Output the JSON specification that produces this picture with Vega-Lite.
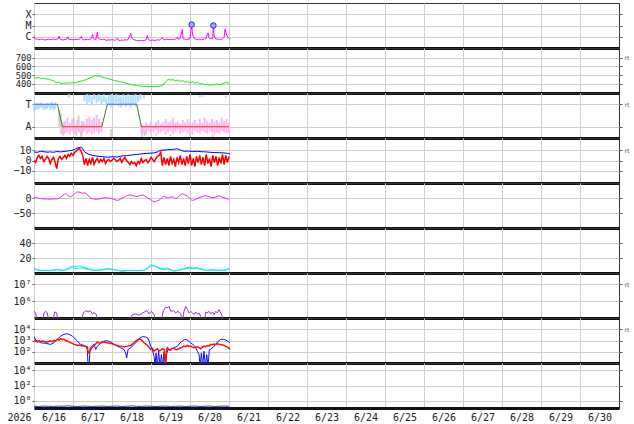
{
"$schema": "https://vega.github.io/schema/vega-lite/v6.json",
"autosize": {"type": "pad"},
"padding": {"left": 6, "top": 2, "right": 4, "bottom": 2},
"background": "white",
"config": {
  "view": {"stroke": "#333", "strokeWidth": 1},
  "axis": {"labelFont": "DejaVu Sans Mono", "labelFontSize": 10, "labelColor": "#222", "gridColor": "#cfcfcf", "gridWidth": 1, "tickColor": "#555", "tickSize": 2, "labelPadding": 1, "domain": false, "labelOverlap": false}
},
"datasets": {
"xr": [{"h":0,"f":13e-7},{"h":0.5,"f":7e-7},{"h":1,"f":6e-7},{"h":2,"f":6.5e-7},{"h":3,"f":5.5e-7},{"h":4,"f":5.8e-7},{"h":5,"f":6.2e-7},{"h":6,"f":5.5e-7},{"h":7,"f":5.2e-7},{"h":8,"f":5.6e-7},{"h":9,"f":6e-7},{"h":10,"f":5.4e-7},{"h":11,"f":5.8e-7},{"h":12,"f":6.4e-7},{"h":13,"f":5.6e-7},{"h":14,"f":6e-7},{"h":15,"f":7e-7},{"h":15.4,"f":11.5e-7},{"h":15.8,"f":6.5e-7},{"h":17,"f":5.6e-7},{"h":18,"f":5.2e-7},{"h":19,"f":5.8e-7},{"h":20,"f":6e-7},{"h":20.9,"f":10e-7},{"h":21.3,"f":6e-7},{"h":22,"f":5.5e-7},{"h":23,"f":5.8e-7},{"h":24,"f":5.3e-7},{"h":25,"f":5.6e-7},{"h":26,"f":6e-7},{"h":27,"f":5.5e-7},{"h":28,"f":6.2e-7},{"h":29.2,"f":11e-7},{"h":29.6,"f":6.5e-7},{"h":30,"f":5.8e-7},{"h":31,"f":5.2e-7},{"h":32,"f":6e-7},{"h":33,"f":5.4e-7},{"h":34,"f":5.8e-7},{"h":35,"f":6.5e-7},{"h":36.1,"f":16e-7},{"h":36.5,"f":7e-7},{"h":37,"f":6e-7},{"h":38,"f":5.8e-7},{"h":39,"f":26e-7},{"h":39.4,"f":8e-7},{"h":40,"f":6.5e-7},{"h":41,"f":6e-7},{"h":42,"f":5.5e-7},{"h":43,"f":6e-7},{"h":44,"f":5.2e-7},{"h":45,"f":4.8e-7},{"h":46,"f":5.4e-7},{"h":47,"f":5e-7},{"h":48,"f":5.6e-7},{"h":49,"f":5.2e-7},{"h":50,"f":4.8e-7},{"h":51.3,"f":7.5e-7},{"h":52,"f":5e-7},{"h":53,"f":4.6e-7},{"h":54,"f":5.2e-7},{"h":55,"f":4.8e-7},{"h":56,"f":5.4e-7},{"h":57,"f":5e-7},{"h":58,"f":6e-7},{"h":59.5,"f":20e-7},{"h":60,"f":8e-7},{"h":61,"f":6e-7},{"h":62,"f":5.2e-7},{"h":63,"f":4.8e-7},{"h":64,"f":4.5e-7},{"h":65,"f":4.4e-7},{"h":66,"f":4.6e-7},{"h":67,"f":4.3e-7},{"h":68,"f":4.8e-7},{"h":69,"f":5.5e-7},{"h":69.8,"f":13e-7},{"h":70.3,"f":6e-7},{"h":71,"f":5e-7},{"h":72,"f":4.8e-7},{"h":73,"f":5.2e-7},{"h":74,"f":4.6e-7},{"h":75,"f":5e-7},{"h":76,"f":5.4e-7},{"h":77,"f":5e-7},{"h":78,"f":5.8e-7},{"h":79,"f":8.5e-7},{"h":79.5,"f":6e-7},{"h":80,"f":5.2e-7},{"h":81,"f":5.6e-7},{"h":82,"f":6e-7},{"h":83,"f":5.5e-7},{"h":84,"f":6e-7},{"h":85,"f":5.4e-7},{"h":86,"f":5.8e-7},{"h":87,"f":6.2e-7},{"h":88.2,"f":9e-7},{"h":88.7,"f":6e-7},{"h":89,"f":6.2e-7},{"h":90,"f":7e-7},{"h":91.3,"f":45e-7},{"h":91.7,"f":8e-7},{"h":92,"f":6.5e-7},{"h":93,"f":6e-7},{"h":94,"f":5.8e-7},{"h":95,"f":6.2e-7},{"h":96,"f":6.5e-7},{"h":97,"f":120e-7},{"h":97.4,"f":30e-7},{"h":97.8,"f":12e-7},{"h":98.5,"f":8e-7},{"h":99,"f":6.5e-7},{"h":100,"f":6e-7},{"h":101,"f":5.8e-7},{"h":102,"f":6.2e-7},{"h":103,"f":6e-7},{"h":104,"f":5.8e-7},{"h":105,"f":6.5e-7},{"h":106,"f":7e-7},{"h":106.8,"f":20e-7},{"h":107.3,"f":20e-7},{"h":107.6,"f":8e-7},{"h":108,"f":7e-7},{"h":109,"f":6.5e-7},{"h":110,"f":7e-7},{"h":110.4,"f":100e-7},{"h":110.8,"f":14e-7},{"h":111.3,"f":8e-7},{"h":112,"f":6.5e-7},{"h":113,"f":6e-7},{"h":114,"f":6.2e-7},{"h":115,"f":5.8e-7},{"h":116,"f":6.5e-7},{"h":117,"f":9e-7},{"h":117.6,"f":47e-7},{"h":118.2,"f":20e-7},{"h":119,"f":10e-7},{"h":120,"f":7.5e-7},{"h":120.6,"f":6.5e-7}],
"fl": [{"h":97,"f":1.2e-5},{"h":110.4,"f":1.0e-5}],
"sw": [{"h":0,"v":472},{"h":1.5,"v":468},{"h":3,"v":474},{"h":4.5,"v":462},{"h":6,"v":466},{"h":7.5,"v":455},{"h":9,"v":458},{"h":10.5,"v":444},{"h":12,"v":436},{"h":13.5,"v":412},{"h":15,"v":420},{"h":16.5,"v":406},{"h":18,"v":410},{"h":19.5,"v":408},{"h":21,"v":413},{"h":22.5,"v":411},{"h":24,"v":416},{"h":25.5,"v":414},{"h":27,"v":424},{"h":28.5,"v":430},{"h":30,"v":438},{"h":31.5,"v":446},{"h":33,"v":458},{"h":34.5,"v":470},{"h":36,"v":478},{"h":37.5,"v":495},{"h":39,"v":488},{"h":40.5,"v":492},{"h":42,"v":478},{"h":43.5,"v":470},{"h":45,"v":462},{"h":46.5,"v":455},{"h":48,"v":447},{"h":49.5,"v":440},{"h":51,"v":435},{"h":52.5,"v":428},{"h":54,"v":420},{"h":55.5,"v":414},{"h":57,"v":405},{"h":58.5,"v":400},{"h":60,"v":393},{"h":61.5,"v":388},{"h":63,"v":384},{"h":64.5,"v":378},{"h":66,"v":376},{"h":67.5,"v":372},{"h":69,"v":370},{"h":70.5,"v":368},{"h":72,"v":372},{"h":73.5,"v":366},{"h":75,"v":371},{"h":76.5,"v":370},{"h":78,"v":380},{"h":79.5,"v":390},{"h":81,"v":425},{"h":82.5,"v":452},{"h":84,"v":444},{"h":85.5,"v":450},{"h":87,"v":436},{"h":88.5,"v":445},{"h":90,"v":430},{"h":91.5,"v":440},{"h":93,"v":418},{"h":94.5,"v":428},{"h":96,"v":412},{"h":97.5,"v":425},{"h":99,"v":408},{"h":100.5,"v":420},{"h":102,"v":398},{"h":103.5,"v":405},{"h":105,"v":390},{"h":106.5,"v":398},{"h":108,"v":385},{"h":109.5,"v":395},{"h":111,"v":388},{"h":112.5,"v":400},{"h":114,"v":392},{"h":115.5,"v":398},{"h":117,"v":410},{"h":118.5,"v":420},{"h":120,"v":403}],
"sec": [{"h":0,"v":1,"s":1,"k":"T"},{"h":14.4,"v":1,"s":1,"k":"T"},{"h":14.4,"v":1,"s":2,"k":"X"},{"h":17.5,"v":-1,"s":2,"k":"X"},{"h":17.5,"v":-1,"s":3,"k":"A"},{"h":41.7,"v":-1,"s":3,"k":"A"},{"h":41.7,"v":-1,"s":4,"k":"X"},{"h":45.2,"v":1,"s":4,"k":"X"},{"h":45.2,"v":1,"s":5,"k":"T"},{"h":63.2,"v":1,"s":5,"k":"T"},{"h":63.2,"v":1,"s":6,"k":"X"},{"h":66.1,"v":-1,"s":6,"k":"X"},{"h":66.1,"v":-1,"s":7,"k":"A"},{"h":120,"v":-1,"s":7,"k":"A"}],
"cl": [{"h":15.5,"lo":-1.0,"hi":0.5,"c":"g"},{"h":16.5,"lo":-1.6,"hi":0.2,"c":"g"},{"h":18,"lo":-1.8,"hi":-0.6,"c":"g"},{"h":21.5,"lo":1.6,"hi":1.9,"c":"g"},{"h":24.5,"lo":-1.6,"hi":-0.2,"c":"g"},{"h":26,"lo":-1.8,"hi":-0.9,"c":"g"},{"h":27.5,"lo":-1.5,"hi":0,"c":"g"},{"h":29,"lo":-1.9,"hi":-1.1,"c":"g"},{"h":30.5,"lo":-1.4,"hi":-0.5,"c":"g"},{"h":47.5,"lo":-1.9,"hi":-1.2,"c":"g"},{"h":52.5,"lo":1.3,"hi":1.5,"c":"g"},{"h":66.5,"lo":-1.9,"hi":-1.0,"c":"g"},{"h":68,"lo":-1.8,"hi":-1.3,"c":"g"},{"h":75,"lo":-1.8,"hi":-1.6,"c":"g"},{"h":84,"lo":-1.85,"hi":-1.65,"c":"g"},{"h":96,"lo":-1.8,"hi":-1.6,"c":"g"},{"h":110,"lo":-1.9,"hi":-1.7,"c":"g"},
{"h":0,"lo":0.45,"hi":1.05,"c":"b"},{"h":1,"lo":0.5,"hi":1.0,"c":"b"},{"h":2,"lo":0.55,"hi":1.1,"c":"b"},{"h":3,"lo":0.6,"hi":1.0,"c":"b"},{"h":4,"lo":0.7,"hi":1.15,"c":"b"},{"h":5,"lo":0.65,"hi":1.05,"c":"b"},{"h":6,"lo":0.5,"hi":0.95,"c":"b"},{"h":7,"lo":0.55,"hi":1.0,"c":"b"},{"h":8,"lo":0.6,"hi":1.1,"c":"b"},{"h":9,"lo":0.75,"hi":1.05,"c":"b"},{"h":10,"lo":0.5,"hi":1.1,"c":"b"},{"h":11,"lo":0.65,"hi":1.2,"c":"b"},{"h":12,"lo":0.45,"hi":1.0,"c":"b"},{"h":13,"lo":0.6,"hi":1.15,"c":"b"},
{"h":31,"lo":1.3,"hi":1.8,"c":"b"},{"h":32.5,"lo":1.0,"hi":1.9,"c":"b"},{"h":34,"lo":1.2,"hi":1.85,"c":"b"},{"h":35.5,"lo":0.9,"hi":1.7,"c":"b"},{"h":37,"lo":1.4,"hi":1.9,"c":"b"},{"h":38.5,"lo":1.1,"hi":1.8,"c":"b"},{"h":40,"lo":1.3,"hi":1.9,"c":"b"},{"h":41.5,"lo":1.0,"hi":1.75,"c":"b"},{"h":43,"lo":1.2,"hi":1.9,"c":"b"},{"h":44.5,"lo":0.8,"hi":1.6,"c":"b"},{"h":46,"lo":1.0,"hi":1.85,"c":"b"},{"h":47.5,"lo":0.7,"hi":1.9,"c":"b"},{"h":49,"lo":0.9,"hi":1.8,"c":"b"},{"h":50.5,"lo":1.1,"hi":1.9,"c":"b"},{"h":52,"lo":0.8,"hi":1.85,"c":"b"},{"h":53.5,"lo":0.7,"hi":1.7,"c":"b"},{"h":55,"lo":1.0,"hi":1.9,"c":"b"},{"h":56.5,"lo":0.75,"hi":1.8,"c":"b"},{"h":58,"lo":0.9,"hi":1.9,"c":"b"},{"h":59.5,"lo":0.7,"hi":1.75,"c":"b"},{"h":61,"lo":1.0,"hi":1.85,"c":"b"},{"h":62.5,"lo":0.8,"hi":1.9,"c":"b"},{"h":64,"lo":1.2,"hi":1.8,"c":"b"},{"h":65.5,"lo":1.4,"hi":1.9,"c":"b"},{"h":67.6,"lo":1.5,"hi":1.8,"c":"b"},{"h":102,"lo":1.6,"hi":1.8,"c":"b"},{"h":104,"lo":1.65,"hi":1.85,"c":"b"},{"h":118,"lo":1.6,"hi":1.75,"c":"b"},
{"h":17.5,"lo":-1.7,"hi":-0.9,"c":"p"},{"h":19,"lo":-1.6,"hi":-0.5,"c":"p"},{"h":20.5,"lo":-1.5,"hi":-0.2,"c":"p"},{"h":22,"lo":-1.7,"hi":-0.6,"c":"p"},{"h":23.5,"lo":-1.4,"hi":-0.3,"c":"p"},{"h":25,"lo":-1.6,"hi":-0.8,"c":"p"},{"h":26.5,"lo":-1.3,"hi":-0.4,"c":"p"},{"h":28,"lo":-1.5,"hi":-0.9,"c":"p"},{"h":29.5,"lo":-1.7,"hi":-0.5,"c":"p"},{"h":31,"lo":-1.4,"hi":-0.7,"c":"p"},{"h":32.5,"lo":-1.6,"hi":-0.3,"c":"p"},{"h":34,"lo":-1.5,"hi":-0.1,"c":"p"},{"h":35.5,"lo":-1.7,"hi":-0.4,"c":"p"},{"h":37,"lo":-1.6,"hi":-0.2,"c":"p"},{"h":38.5,"lo":-1.4,"hi":0.05,"c":"p"},{"h":40,"lo":-1.6,"hi":-0.3,"c":"p"},{"h":41.5,"lo":-1.5,"hi":-0.6,"c":"p"},
{"h":66,"lo":-1.6,"hi":-0.7,"c":"p"},{"h":67.5,"lo":-1.5,"hi":-0.9,"c":"p"},{"h":69,"lo":-1.7,"hi":-0.6,"c":"p"},{"h":70.5,"lo":-1.4,"hi":-0.8,"c":"p"},{"h":72,"lo":-1.6,"hi":-0.5,"c":"p"},{"h":73.5,"lo":-1.5,"hi":-0.9,"c":"p"},{"h":75,"lo":-1.3,"hi":-0.6,"c":"p"},{"h":76.5,"lo":-1.6,"hi":-0.4,"c":"p"},{"h":78,"lo":-1.5,"hi":-0.7,"c":"p"},{"h":79.5,"lo":-1.4,"hi":-0.6,"c":"p"},{"h":81,"lo":-1.7,"hi":-0.3,"c":"p"},{"h":82.5,"lo":-1.5,"hi":-0.6,"c":"p"},{"h":84,"lo":-1.4,"hi":-0.5,"c":"p"},{"h":85.5,"lo":-1.6,"hi":-0.2,"c":"p"},{"h":87,"lo":-1.5,"hi":-0.6,"c":"p"},{"h":88.5,"lo":-1.3,"hi":-0.5,"c":"p"},{"h":90,"lo":-1.6,"hi":-0.7,"c":"p"},{"h":91.5,"lo":-1.5,"hi":-0.4,"c":"p"},{"h":93,"lo":-1.4,"hi":-0.6,"c":"p"},{"h":94.5,"lo":-1.6,"hi":-0.3,"c":"p"},{"h":96,"lo":-1.5,"hi":-0.5,"c":"p"},{"h":97.5,"lo":-1.7,"hi":-0.6,"c":"p"},{"h":99,"lo":-1.4,"hi":-0.4,"c":"p"},{"h":100.5,"lo":-1.5,"hi":-0.7,"c":"p"},{"h":102,"lo":-1.6,"hi":-0.3,"c":"p"},{"h":103.5,"lo":-1.4,"hi":-0.6,"c":"p"},{"h":105,"lo":-1.5,"hi":-0.2,"c":"p"},{"h":106.5,"lo":-1.6,"hi":-0.5,"c":"p"},{"h":108,"lo":-1.4,"hi":-0.6,"c":"p"},{"h":109.5,"lo":-1.5,"hi":-0.3,"c":"p"},{"h":111,"lo":-1.7,"hi":-0.5,"c":"p"},{"h":112.5,"lo":-1.5,"hi":-0.4,"c":"p"},{"h":114,"lo":-1.6,"hi":-0.6,"c":"p"},{"h":115.5,"lo":-1.4,"hi":-0.2,"c":"p"},{"h":117,"lo":-1.5,"hi":-0.5,"c":"p"},{"h":118.5,"lo":-1.6,"hi":-0.3,"c":"p"},{"h":120,"lo":-1.5,"hi":-0.6,"c":"p"}],
"bt": [{"h":0,"v":8.4},{"h":2,"v":8},{"h":4.1,"v":9},{"h":6,"v":8.6},{"h":8,"v":8.2},{"h":10.3,"v":8.4},{"h":12,"v":8},{"h":14,"v":8.8},{"h":16.4,"v":8.4},{"h":18.5,"v":8.8},{"h":20.5,"v":9.2},{"h":22.6,"v":9.8},{"h":24.6,"v":10.5},{"h":26.7,"v":12.3},{"h":28.7,"v":13},{"h":29.8,"v":12},{"h":30.8,"v":9},{"h":32,"v":7.5},{"h":33.9,"v":5.9},{"h":36,"v":5},{"h":39,"v":4.2},{"h":42,"v":3.8},{"h":45.2,"v":3.2},{"h":48,"v":3.6},{"h":51.3,"v":3.5},{"h":54,"v":4.4},{"h":57,"v":4.8},{"h":59.5,"v":5.2},{"h":62,"v":5.8},{"h":65,"v":6.2},{"h":67.7,"v":6.8},{"h":70,"v":7},{"h":73.8,"v":7.4},{"h":76,"v":8.5},{"h":77.9,"v":10},{"h":80,"v":10.2},{"h":82,"v":10.5},{"h":84.1,"v":10.7},{"h":86,"v":11},{"h":88.2,"v":11.4},{"h":90,"v":10.2},{"h":92.3,"v":9},{"h":95,"v":9.2},{"h":97.5,"v":8.8},{"h":100.5,"v":9},{"h":103,"v":8.6},{"h":106,"v":8.4},{"h":108.7,"v":8},{"h":111,"v":7.8},{"h":114,"v":7.6},{"h":116.9,"v":7.4},{"h":119,"v":7},{"h":120.6,"v":6.3}],
"bz": [{"h":0,"v":0},{"h":1,"v":-2},{"h":2,"v":3},{"h":3,"v":5},{"h":4,"v":2},{"h":5,"v":4},{"h":6,"v":-1},{"h":7,"v":1},{"h":8,"v":4},{"h":9,"v":2},{"h":10,"v":-3},{"h":11,"v":1},{"h":12,"v":3},{"h":13,"v":-2},{"h":14,"v":-8},{"h":15,"v":2},{"h":16,"v":4},{"h":17,"v":1},{"h":18,"v":3},{"h":19,"v":5},{"h":20,"v":2},{"h":21,"v":6},{"h":22,"v":4},{"h":23,"v":7},{"h":24,"v":5},{"h":25,"v":8},{"h":26,"v":9},{"h":27,"v":11},{"h":28,"v":12},{"h":29,"v":9},{"h":30,"v":5},{"h":31,"v":-4},{"h":32,"v":2},{"h":33,"v":-5},{"h":34,"v":1},{"h":35,"v":-3},{"h":36,"v":3},{"h":37,"v":-4},{"h":38,"v":0},{"h":39,"v":2},{"h":40,"v":-2},{"h":41,"v":1},{"h":42,"v":-1},{"h":43,"v":2},{"h":44,"v":-3},{"h":45,"v":0},{"h":46,"v":1},{"h":47,"v":-1},{"h":48,"v":0},{"h":49,"v":2},{"h":50,"v":1},{"h":51,"v":-1},{"h":52,"v":0},{"h":53,"v":2},{"h":54,"v":-2},{"h":55,"v":1},{"h":56,"v":3},{"h":57,"v":0},{"h":58,"v":-2},{"h":59,"v":-4},{"h":60,"v":-1},{"h":61,"v":-3},{"h":62,"v":-2},{"h":63,"v":-5},{"h":64,"v":-1},{"h":65,"v":-3},{"h":66,"v":2},{"h":67,"v":-2},{"h":68,"v":0},{"h":69,"v":1},{"h":70,"v":-2},{"h":71,"v":0},{"h":72,"v":3},{"h":73,"v":1},{"h":74,"v":-1},{"h":75,"v":2},{"h":76,"v":4},{"h":77,"v":5},{"h":78,"v":8},{"h":79,"v":-5},{"h":80,"v":3},{"h":81,"v":-4},{"h":82,"v":2},{"h":83,"v":-5},{"h":84,"v":4},{"h":85,"v":-3},{"h":86,"v":1},{"h":87,"v":-6},{"h":88,"v":3},{"h":89,"v":-2},{"h":90,"v":5},{"h":91,"v":-4},{"h":92,"v":2},{"h":93,"v":-5},{"h":94,"v":4},{"h":95,"v":-3},{"h":96,"v":6},{"h":97,"v":-5},{"h":98,"v":2},{"h":99,"v":-6},{"h":100,"v":4},{"h":101,"v":-2},{"h":102,"v":5},{"h":103,"v":-4},{"h":104,"v":3},{"h":105,"v":-5},{"h":106,"v":6},{"h":107,"v":-3},{"h":108,"v":2},{"h":109,"v":-6},{"h":110,"v":5},{"h":111,"v":-2},{"h":112,"v":4},{"h":113,"v":-5},{"h":114,"v":3},{"h":115,"v":-3},{"h":116,"v":6},{"h":117,"v":-4},{"h":118,"v":5},{"h":119,"v":-2},{"h":120,"v":4}],
"dst": [{"h":0,"v":4},{"h":1,"v":2},{"h":2.1,"v":1},{"h":3,"v":-1},{"h":4.1,"v":-2},{"h":6,"v":-3},{"h":8.2,"v":-3},{"h":10,"v":-4},{"h":12,"v":-3},{"h":14.4,"v":-3},{"h":15.5,"v":0},{"h":16.4,"v":3},{"h":18,"v":10},{"h":19.5,"v":14},{"h":21,"v":8},{"h":22.6,"v":4},{"h":24.5,"v":12},{"h":26.7,"v":20},{"h":28.2,"v":19},{"h":29.8,"v":16},{"h":31,"v":17},{"h":32.8,"v":12},{"h":34.5,"v":1},{"h":36.5,"v":-3},{"h":39,"v":-4},{"h":41,"v":-2},{"h":43.1,"v":1},{"h":45,"v":0},{"h":47.2,"v":-1},{"h":49,"v":-4},{"h":51.3,"v":-8},{"h":53.5,"v":-3},{"h":55.4,"v":3},{"h":57.5,"v":8},{"h":59.5,"v":10},{"h":61.5,"v":7},{"h":63.6,"v":5},{"h":65.2,"v":8},{"h":66.7,"v":10},{"h":68.3,"v":6},{"h":69.8,"v":1},{"h":71.8,"v":-6},{"h":73.9,"v":-12},{"h":75.5,"v":-10},{"h":77,"v":-7},{"h":78.5,"v":0},{"h":80,"v":5},{"h":82.1,"v":1},{"h":83.6,"v":3},{"h":85.2,"v":4},{"h":87.2,"v":-1},{"h":89.2,"v":6},{"h":91.3,"v":14},{"h":92.8,"v":11},{"h":94.4,"v":6},{"h":96,"v":-2},{"h":97.5,"v":-8},{"h":99.5,"v":-4},{"h":101.6,"v":1},{"h":103.6,"v":5},{"h":105.7,"v":8},{"h":107.7,"v":4},{"h":109.8,"v":1},{"h":111.8,"v":3},{"h":113.9,"v":7},{"h":115.5,"v":4},{"h":117,"v":1},{"h":118.5,"v":-2},{"h":120.1,"v":-4}],
"na": [{"h":0,"v":6.2},{"h":2,"v":4.5},{"h":4,"v":3.6},{"h":6,"v":3.8},{"h":8,"v":3.4},{"h":10,"v":3.6},{"h":12,"v":4},{"h":14.4,"v":5},{"h":16,"v":4.2},{"h":18,"v":3.6},{"h":19.5,"v":4.5},{"h":20.8,"v":6.2},{"h":22.6,"v":8.5},{"h":24,"v":9.3},{"h":26,"v":9},{"h":28,"v":9.5},{"h":30,"v":8},{"h":32,"v":7},{"h":34,"v":5},{"h":36,"v":4.5},{"h":38,"v":3.6},{"h":40,"v":4},{"h":42,"v":4.5},{"h":44,"v":5.5},{"h":46,"v":6.2},{"h":48,"v":5},{"h":50,"v":4.5},{"h":52,"v":3.5},{"h":54,"v":2.7},{"h":56,"v":3.2},{"h":58,"v":3.6},{"h":60,"v":3.4},{"h":62,"v":3.6},{"h":64,"v":3.2},{"h":66,"v":3.6},{"h":68,"v":4},{"h":70,"v":7},{"h":72,"v":11.6},{"h":73,"v":10},{"h":74,"v":9},{"h":76,"v":8},{"h":78,"v":6},{"h":80,"v":5},{"h":82,"v":7},{"h":84,"v":5},{"h":86,"v":2.7},{"h":88,"v":3.5},{"h":90,"v":5},{"h":92,"v":5.5},{"h":94,"v":7},{"h":96,"v":8},{"h":98,"v":6.5},{"h":100,"v":7.5},{"h":102,"v":5.8},{"h":104,"v":5},{"h":106,"v":3.6},{"h":108,"v":4.2},{"h":110,"v":4.5},{"h":112,"v":3.6},{"h":114,"v":4},{"h":116,"v":3.6},{"h":118,"v":4.5},{"h":120,"v":6.2}],
"nb": [{"h":0,"v":5},{"h":2,"v":3.8},{"h":4,"v":3.2},{"h":6,"v":3.4},{"h":8,"v":3.0},{"h":10,"v":3.2},{"h":12,"v":3.5},{"h":14.4,"v":4.2},{"h":16,"v":3.8},{"h":18,"v":3.2},{"h":19.5,"v":4},{"h":20.8,"v":5},{"h":22.6,"v":6.5},{"h":24,"v":7},{"h":26,"v":6},{"h":28,"v":6.5},{"h":30,"v":6.5},{"h":32,"v":5.5},{"h":34,"v":4.2},{"h":36,"v":3.8},{"h":38,"v":3.2},{"h":40,"v":3.6},{"h":42,"v":4},{"h":44,"v":4.8},{"h":46,"v":5.2},{"h":48,"v":4.4},{"h":50,"v":4},{"h":52,"v":3.2},{"h":54,"v":2.5},{"h":56,"v":2.8},{"h":58,"v":3.2},{"h":60,"v":3.1},{"h":62,"v":3.2},{"h":64,"v":2.9},{"h":66,"v":3.2},{"h":68,"v":3.6},{"h":70,"v":6},{"h":72,"v":9.5},{"h":73,"v":9},{"h":74,"v":10},{"h":76,"v":7},{"h":78,"v":5.2},{"h":80,"v":4.5},{"h":82,"v":5.5},{"h":84,"v":4.2},{"h":86,"v":2.5},{"h":88,"v":3},{"h":90,"v":4.2},{"h":92,"v":4.8},{"h":94,"v":6},{"h":96,"v":6.8},{"h":98,"v":5.5},{"h":100,"v":6.2},{"h":102,"v":5},{"h":104,"v":4.4},{"h":106,"v":3.2},{"h":108,"v":3.6},{"h":110,"v":4},{"h":112,"v":3.2},{"h":114,"v":3.5},{"h":116,"v":3.2},{"h":118,"v":4},{"h":120,"v":5.2}],
"pr": [{"h":0,"p":250000},{"h":1.05,"p":200000},{"h":2.07,"p":50000},{"h":5.15,"p":50000},{"h":6.17,"p":200000},{"h":7.2,"p":250000},{"h":8.2,"p":200000},{"h":9.25,"p":50000},{"h":11.3,"p":50000},{"h":12.7,"p":230000},{"h":14.0,"p":200000},{"h":14.8,"p":50000},{"h":28.7,"p":50000},{"h":30.4,"p":200000},{"h":31.8,"p":275000},{"h":33.3,"p":230000},{"h":34.5,"p":275000},{"h":35.9,"p":180000},{"h":36.9,"p":210000},{"h":38.4,"p":160000},{"h":39.0,"p":50000},{"h":58.5,"p":50000},{"h":60.5,"p":160000},{"h":62.6,"p":175000},{"h":64.6,"p":145000},{"h":66.7,"p":200000},{"h":68.1,"p":230000},{"h":69.4,"p":275000},{"h":70.8,"p":175000},{"h":72.2,"p":250000},{"h":73.9,"p":160000},{"h":74.9,"p":50000},{"h":78.0,"p":50000},{"h":79.6,"p":275000},{"h":81.0,"p":440000},{"h":82.1,"p":400000},{"h":83.1,"p":500000},{"h":84.1,"p":250000},{"h":85.8,"p":275000},{"h":87.2,"p":200000},{"h":88.6,"p":250000},{"h":90.3,"p":175000},{"h":91.3,"p":50000},{"h":92.3,"p":250000},{"h":93.4,"p":500000},{"h":94.4,"p":320000},{"h":95.4,"p":200000},{"h":96.4,"p":250000},{"h":97.5,"p":200000},{"h":98.5,"p":160000},{"h":99.5,"p":230000},{"h":100.5,"p":175000},{"h":101.6,"p":200000},{"h":102.6,"p":126000},{"h":104.6,"p":50000},{"h":105.7,"p":230000},{"h":106.7,"p":200000},{"h":107.7,"p":250000},{"h":108.7,"p":175000},{"h":109.8,"p":230000},{"h":110.8,"p":160000},{"h":111.8,"p":250000},{"h":112.8,"p":200000},{"h":113.9,"p":320000},{"h":114.9,"p":200000},{"h":115.9,"p":126000},{"h":116.5,"p":50000}],
"e1": [{"h":0,"e":2190},{"h":1.05,"e":1100},{"h":4.1,"e":630},{"h":7.2,"e":550},{"h":10.3,"e":450},{"h":12.3,"e":630},{"h":14.4,"e":1260},{"h":16.4,"e":2500},{"h":18.5,"e":3550},{"h":20.5,"e":4070},{"h":21.6,"e":3550},{"h":23.6,"e":2500},{"h":24.6,"e":1780},{"h":26.7,"e":890},{"h":28.7,"e":450},{"h":30.8,"e":360},{"h":31.8,"e":316},{"h":32.8,"e":160},{"h":33.3,"e":5},{"h":33.9,"e":5},{"h":34.5,"e":224},{"h":35.9,"e":360},{"h":37.0,"e":450},{"h":38.0,"e":160},{"h":39.0,"e":316},{"h":41.0,"e":550},{"h":43.1,"e":890},{"h":45.2,"e":955},{"h":47.2,"e":725},{"h":49.3,"e":450},{"h":51.3,"e":316},{"h":53.4,"e":224},{"h":55.4,"e":160},{"h":56.4,"e":78},{"h":57.0,"e":28},{"h":57.9,"e":160},{"h":59.5,"e":224},{"h":61.6,"e":450},{"h":63.6,"e":890},{"h":65.3,"e":1780},{"h":66.7,"e":2190},{"h":68.7,"e":2040},{"h":69.8,"e":1780},{"h":70.8,"e":890},{"h":71.8,"e":316},{"h":72.8,"e":160},{"h":73.9,"e":39},{"h":74.5,"e":5},{"h":75.1,"e":78},{"h":75.9,"e":5},{"h":76.7,"e":112},{"h":77.6,"e":5},{"h":78.4,"e":56},{"h":79.2,"e":5},{"h":80.0,"e":89},{"h":80.8,"e":5},{"h":81.7,"e":69},{"h":82.5,"e":160},{"h":84.1,"e":160},{"h":86.2,"e":224},{"h":88.2,"e":316},{"h":89.9,"e":630},{"h":91.3,"e":890},{"h":92.7,"e":1260},{"h":94.4,"e":1100},{"h":96.4,"e":630},{"h":98.5,"e":360},{"h":99.5,"e":224},{"h":100.5,"e":112},{"h":101.6,"e":56},{"h":102.2,"e":5},{"h":103.0,"e":78},{"h":103.8,"e":5},{"h":104.6,"e":112},{"h":105.5,"e":5},{"h":106.3,"e":56},{"h":107.1,"e":5},{"h":107.9,"e":160},{"h":108.7,"e":160},{"h":110.4,"e":275},{"h":111.8,"e":450},{"h":113.3,"e":830},{"h":114.9,"e":1260},{"h":116.5,"e":1260},{"h":118.0,"e":1100},{"h":119.4,"e":830},{"h":120.6,"e":630}],
"e2": [{"h":0,"e":1100},{"h":1.05,"e":890},{"h":2.07,"e":725},{"h":3.1,"e":955},{"h":4.12,"e":780},{"h":5.2,"e":900},{"h":6.2,"e":830},{"h":7.2,"e":700},{"h":8.2,"e":725},{"h":9.3,"e":850},{"h":10.3,"e":890},{"h":11.3,"e":800},{"h":12.3,"e":1020},{"h":13.4,"e":950},{"h":14.4,"e":1260},{"h":15.4,"e":1100},{"h":16.4,"e":1450},{"h":17.5,"e":1200},{"h":18.5,"e":1260},{"h":19.5,"e":1000},{"h":20.5,"e":890},{"h":21.6,"e":750},{"h":22.6,"e":630},{"h":23.6,"e":560},{"h":24.6,"e":450},{"h":25.7,"e":420},{"h":26.7,"e":360},{"h":27.7,"e":400},{"h":28.7,"e":360},{"h":29.8,"e":330},{"h":30.8,"e":316},{"h":31.8,"e":300},{"h":32.8,"e":275},{"h":33.4,"e":78},{"h":33.9,"e":78},{"h":34.9,"e":160},{"h":36,"e":250},{"h":37.0,"e":360},{"h":38,"e":500},{"h":39.0,"e":725},{"h":40,"e":600},{"h":41.0,"e":630},{"h":42,"e":750},{"h":43.1,"e":725},{"h":44.2,"e":650},{"h":45.2,"e":630},{"h":46.2,"e":560},{"h":47.2,"e":550},{"h":48.3,"e":500},{"h":49.3,"e":450},{"h":50.3,"e":400},{"h":51.3,"e":360},{"h":52.4,"e":330},{"h":53.4,"e":316},{"h":54.4,"e":290},{"h":55.4,"e":275},{"h":56.5,"e":300},{"h":57.5,"e":316},{"h":58.5,"e":340},{"h":59.5,"e":360},{"h":60.6,"e":500},{"h":61.6,"e":630},{"h":62.6,"e":900},{"h":63.6,"e":1100},{"h":64.6,"e":1260},{"h":65.7,"e":1260},{"h":66.7,"e":900},{"h":67.7,"e":630},{"h":68.7,"e":500},{"h":69.8,"e":360},{"h":70.8,"e":250},{"h":71.8,"e":160},{"h":72.8,"e":200},{"h":73.9,"e":112},{"h":74.9,"e":150},{"h":75.9,"e":185},{"h":77,"e":120},{"h":78.0,"e":140},{"h":79,"e":180},{"h":80.0,"e":160},{"h":81,"e":5},{"h":81.4,"e":120},{"h":82.1,"e":224},{"h":83,"e":150},{"h":84.1,"e":140},{"h":85,"e":200},{"h":86.2,"e":208},{"h":87.2,"e":150},{"h":88.2,"e":160},{"h":89.3,"e":200},{"h":90.3,"e":224},{"h":91.3,"e":260},{"h":92.3,"e":316},{"h":93.3,"e":280},{"h":94.4,"e":360},{"h":95.4,"e":300},{"h":96.4,"e":316},{"h":97.5,"e":260},{"h":98.5,"e":224},{"h":99.5,"e":250},{"h":100.5,"e":275},{"h":101.6,"e":220},{"h":102.6,"e":185},{"h":103.6,"e":250},{"h":104.6,"e":316},{"h":105.6,"e":280},{"h":106.7,"e":360},{"h":107.7,"e":330},{"h":108.7,"e":450},{"h":109.8,"e":420},{"h":110.8,"e":480},{"h":111.8,"e":450},{"h":112.8,"e":510},{"h":113.9,"e":460},{"h":114.9,"e":450},{"h":116,"e":400},{"h":117.0,"e":360},{"h":118,"e":300},{"h":119.0,"e":275},{"h":120,"e":200},{"h":120.6,"e":160}],
"lo": [{"h":0,"v":0.17},{"h":3,"v":0.16},{"h":6,"v":0.18},{"h":9,"v":0.17},{"h":12,"v":0.16},{"h":15,"v":0.18},{"h":18,"v":0.17},{"h":21,"v":0.19},{"h":24,"v":0.17},{"h":27,"v":0.16},{"h":30,"v":0.18},{"h":33,"v":0.17},{"h":36,"v":0.16},{"h":39,"v":0.17},{"h":42,"v":0.18},{"h":45,"v":0.16},{"h":48,"v":0.17},{"h":51,"v":0.18},{"h":54,"v":0.16},{"h":57,"v":0.17},{"h":60,"v":0.19},{"h":63,"v":0.17},{"h":66,"v":0.16},{"h":69,"v":0.18},{"h":72,"v":0.17},{"h":75,"v":0.16},{"h":78,"v":0.17},{"h":81,"v":0.18},{"h":84,"v":0.16},{"h":87,"v":0.17},{"h":90,"v":0.18},{"h":93,"v":0.16},{"h":96,"v":0.17},{"h":99,"v":0.18},{"h":102,"v":0.16},{"h":105,"v":0.17},{"h":108,"v":0.18},{"h":111,"v":0.16},{"h":114,"v":0.17},{"h":117,"v":0.18},{"h":120,"v":0.17}]
},
"spacing": 0,
"bounds": "flush",
"vconcat": [
{"width": 585, "height": 45, "resolve": {"axis": {"y": "independent"}}, "layer": [
 {"data": {"name": "xr"}, "mark": {"type": "line", "color": "#ff00ff", "strokeWidth": 1, "clip": true},
  "encoding": {"x": {"field": "h", "type": "quantitative", "scale": {"domain": [0, 360], "nice": false, "zero": false}, "axis": {"values": [0,24,48,72,96,120,144,168,192,216,240,264,288,312,336], "grid": true, "labels": false, "ticks": false, "domain": true, "domainWidth": 3, "domainColor": "#111", "title": null}},
   "y": {"field": "f", "type": "quantitative", "scale": {"type": "log", "domain": [1e-7, 0.001], "nice": false}, "axis": {"orient": "left", "values": [0.000001, 0.00001, 0.0001], "labelExpr": "datum.value > 0.00005 ? 'X' : datum.value > 0.000005 ? 'M' : 'C'", "grid": true, "title": null}}}},
 {"data": {"name": "fl"}, "mark": {"type": "point", "shape": "circle", "filled": true, "fill": "#a8a8ff", "stroke": "#2525e0", "strokeWidth": 1, "size": 30, "opacity": 1},
  "encoding": {"x": {"field": "h", "type": "quantitative", "scale": {"domain": [0, 360], "nice": false, "zero": false}, "axis": {"values": [0,24,48,72,96,120,144,168,192,216,240,264,288,312,336], "grid": true, "labels": false, "ticks": false, "domain": true, "domainWidth": 3, "domainColor": "#111", "title": null}},
   "y": {"field": "f", "type": "quantitative", "scale": {"type": "log", "domain": [1e-7, 0.001], "nice": false}, "axis": {"orient": "right", "values": [0.000001, 0.00001, 0.0001], "labels": false, "grid": false, "tickSize": 3, "title": null}}}}
]},
{"width": 585, "height": 45, "resolve": {"axis": {"y": "independent"}}, "layer": [
 {"data": {"name": "sw"}, "mark": {"type": "line", "color": "#11ee11", "strokeWidth": 1},
  "encoding": {"x": {"field": "h", "type": "quantitative", "scale": {"domain": [0, 360], "nice": false, "zero": false}, "axis": {"values": [0,24,48,72,96,120,144,168,192,216,240,264,288,312,336], "grid": true, "labels": false, "ticks": false, "domain": true, "domainWidth": 3, "domainColor": "#111", "title": null}},
   "y": {"field": "v", "type": "quantitative", "scale": {"domain": [297, 810], "nice": false, "zero": false}, "axis": {"orient": "left", "values": [400, 500, 600, 700], "labelFontSize": 8.7, "grid": true, "title": null}}}},
 {"mark": {"type": "rule", "opacity": 0},
  "encoding": {"y": {"datum": 700, "type": "quantitative", "scale": {"domain": [297, 810], "nice": false, "zero": false}, "axis": {"orient": "right", "values": [400, 500, 600, 700], "labelExpr": "datum.value == 700 ? 'rt' : ''", "labelFont": "DejaVu Sans", "labelFontSize": 6, "labelColor": "#555", "labelPadding": 2, "grid": false, "tickSize": 3, "title": null}}}}
]},
{"width": 585, "height": 45, "resolve": {"axis": {"y": "independent"}, "scale": {"color": "independent"}}, "layer": [
 {"data": {"name": "cl"}, "mark": {"type": "rule", "strokeWidth": 2, "opacity": 0.9},
  "encoding": {"x": {"field": "h", "type": "quantitative", "scale": {"domain": [0, 360], "nice": false, "zero": false}, "axis": {"values": [0,24,48,72,96,120,144,168,192,216,240,264,288,312,336], "grid": true, "labels": false, "ticks": false, "domain": true, "domainWidth": 3, "domainColor": "#111", "title": null}},
   "y": {"field": "lo", "type": "quantitative", "scale": {"domain": [-2, 2], "nice": false, "zero": false}, "axis": {"orient": "left", "values": [-1, 1], "labelExpr": "datum.value > 0 ? 'T' : 'A'", "grid": true, "title": null}},
   "y2": {"field": "hi"},
   "color": {"field": "c", "type": "nominal", "scale": {"domain": ["g", "b", "p"], "range": ["#cdcdcd", "#a8dcff", "#ffb0f0"]}, "legend": null}}},
 {"mark": {"type": "rule", "color": "#555", "strokeWidth": 1},
  "encoding": {"y": {"datum": 0, "type": "quantitative", "scale": {"domain": [-2, 2], "nice": false, "zero": false}, "axis": {"orient": "right", "values": [-1, 1], "labelExpr": "datum.value == 1 ? 'rt' : ''", "labelFont": "DejaVu Sans", "labelFontSize": 6, "labelColor": "#555", "labelPadding": 2, "grid": false, "tickSize": 3, "title": null}}}},
 {"data": {"name": "sec"}, "mark": {"type": "line", "strokeWidth": 1},
  "encoding": {"x": {"field": "h", "type": "quantitative", "scale": {"domain": [0, 360], "nice": false, "zero": false}, "axis": {"values": [0,24,48,72,96,120,144,168,192,216,240,264,288,312,336], "grid": true, "labels": false, "ticks": false, "domain": true, "domainWidth": 3, "domainColor": "#111", "title": null}},
   "y": {"field": "v", "type": "quantitative", "scale": {"domain": [-2, 2], "nice": false, "zero": false}, "axis": null},
   "detail": {"field": "s", "type": "nominal"},
   "color": {"field": "k", "type": "nominal", "scale": {"domain": ["T", "X", "A"], "range": ["#5a5aff", "#3a7a3a", "#ee3333"]}, "legend": null}}}
]},
{"width": 585, "height": 45, "resolve": {"axis": {"y": "independent"}}, "layer": [
 {"data": {"name": "bz"}, "mark": {"type": "line", "color": "#ff0000", "strokeWidth": 1.5, "clip": true},
  "encoding": {"x": {"field": "h", "type": "quantitative", "scale": {"domain": [0, 360], "nice": false, "zero": false}, "axis": {"values": [0,24,48,72,96,120,144,168,192,216,240,264,288,312,336], "grid": true, "labels": false, "ticks": false, "domain": true, "domainWidth": 3, "domainColor": "#111", "title": null}},
   "y": {"field": "v", "type": "quantitative", "scale": {"domain": [-22, 22], "nice": false, "zero": false}, "axis": {"orient": "left", "values": [-10, 0, 10], "grid": true, "title": null}}}},
 {"data": {"name": "bt"}, "mark": {"type": "line", "color": "#0000ff", "strokeWidth": 1},
  "encoding": {"x": {"field": "h", "type": "quantitative", "scale": {"domain": [0, 360], "nice": false, "zero": false}, "axis": {"values": [0,24,48,72,96,120,144,168,192,216,240,264,288,312,336], "grid": true, "labels": false, "ticks": false, "domain": true, "domainWidth": 3, "domainColor": "#111", "title": null}},
   "y": {"field": "v", "type": "quantitative", "scale": {"domain": [-22, 22], "nice": false, "zero": false}, "axis": null}}},
 {"mark": {"type": "rule", "color": "#990000", "strokeWidth": 1},
  "encoding": {"y": {"datum": 0, "type": "quantitative", "scale": {"domain": [-22, 22], "nice": false, "zero": false}, "axis": {"orient": "right", "values": [-10, 0, 10], "labelExpr": "datum.value == 10 ? 'rt' : ''", "labelFont": "DejaVu Sans", "labelFontSize": 6, "labelColor": "#555", "labelPadding": 2, "grid": false, "tickSize": 3, "title": null}}}}
]},
{"width": 585, "height": 45, "resolve": {"axis": {"y": "independent"}}, "layer": [
 {"mark": {"type": "rule", "color": "#d07070", "strokeWidth": 2},
  "encoding": {"y": {"datum": 0, "type": "quantitative", "scale": {"domain": [-100, 50], "nice": false, "zero": false}, "axis": {"orient": "right", "values": [-50, 0], "labels": false, "grid": false, "tickSize": 3, "title": null}}}},
 {"data": {"name": "dst"}, "mark": {"type": "line", "color": "#ee22ee", "strokeWidth": 1, "interpolate": "monotone"},
  "encoding": {"x": {"field": "h", "type": "quantitative", "scale": {"domain": [0, 360], "nice": false, "zero": false}, "axis": {"values": [0,24,48,72,96,120,144,168,192,216,240,264,288,312,336], "grid": true, "labels": false, "ticks": false, "domain": true, "domainWidth": 3, "domainColor": "#111", "title": null}},
   "y": {"field": "v", "type": "quantitative", "scale": {"domain": [-100, 50], "nice": false, "zero": false}, "axis": {"orient": "left", "values": [-50, 0], "grid": true, "title": null}}}}
]},
{"width": 585, "height": 45, "resolve": {"axis": {"y": "independent"}}, "layer": [
 {"data": {"name": "na"}, "mark": {"type": "line", "color": "#00eeee", "strokeWidth": 1},
  "encoding": {"x": {"field": "h", "type": "quantitative", "scale": {"domain": [0, 360], "nice": false, "zero": false}, "axis": {"values": [0,24,48,72,96,120,144,168,192,216,240,264,288,312,336], "grid": true, "labels": false, "ticks": false, "domain": true, "domainWidth": 3, "domainColor": "#111", "title": null}},
   "y": {"field": "v", "type": "quantitative", "scale": {"domain": [0, 60], "nice": false, "zero": false}, "axis": {"orient": "left", "values": [20, 40], "grid": true, "title": null}}}},
 {"data": {"name": "nb"}, "mark": {"type": "line", "color": "#22e0e0", "strokeWidth": 1},
  "encoding": {"x": {"field": "h", "type": "quantitative", "scale": {"domain": [0, 360], "nice": false, "zero": false}, "axis": {"values": [0,24,48,72,96,120,144,168,192,216,240,264,288,312,336], "grid": true, "labels": false, "ticks": false, "domain": true, "domainWidth": 3, "domainColor": "#111", "title": null}},
   "y": {"field": "v", "type": "quantitative", "scale": {"domain": [0, 60], "nice": false, "zero": false}, "axis": {"orient": "right", "values": [20, 40], "labels": false, "grid": false, "tickSize": 3, "title": null}}}}
]},
{"width": 585, "height": 45, "resolve": {"axis": {"y": "independent"}}, "layer": [
 {"data": {"name": "pr"}, "mark": {"type": "line", "color": "#9933cc", "strokeWidth": 1, "clip": true},
  "encoding": {"x": {"field": "h", "type": "quantitative", "scale": {"domain": [0, 360], "nice": false, "zero": false}, "axis": {"values": [0,24,48,72,96,120,144,168,192,216,240,264,288,312,336], "grid": true, "labels": false, "ticks": false, "domain": true, "domainWidth": 3, "domainColor": "#111", "title": null}},
   "y": {"field": "p", "type": "quantitative", "scale": {"type": "log", "domain": [100000, 48000000], "nice": false}, "axis": {"orient": "left", "values": [1000000, 10000000], "labelExpr": "datum.value > 5000000 ? '10⁷' : '10⁶'", "grid": true, "title": null}}}},
 {"mark": {"type": "rule", "color": "#cc0000", "strokeWidth": 1.2},
  "encoding": {"y": {"datum": 1000000, "type": "quantitative", "scale": {"type": "log", "domain": [100000, 48000000], "nice": false}, "axis": {"orient": "right", "values": [1000000, 10000000], "labelExpr": "datum.value > 5000000 ? 'rt' : ''", "labelFont": "DejaVu Sans", "labelFontSize": 6, "labelColor": "#555", "labelPadding": 2, "grid": false, "tickSize": 3, "title": null}}}},
 {"mark": {"type": "rule", "color": "#cc0000", "strokeWidth": 1.2},
  "encoding": {"y": {"datum": 10000000, "type": "quantitative", "scale": {"type": "log", "domain": [100000, 48000000], "nice": false}, "axis": null}}}
]},
{"width": 585, "height": 45, "resolve": {"axis": {"y": "independent"}}, "layer": [
 {"data": {"name": "e1"}, "mark": {"type": "line", "color": "#1010ff", "strokeWidth": 1, "clip": true},
  "encoding": {"x": {"field": "h", "type": "quantitative", "scale": {"domain": [0, 360], "nice": false, "zero": false}, "axis": {"values": [0,24,48,72,96,120,144,168,192,216,240,264,288,312,336], "grid": true, "labels": false, "ticks": false, "domain": true, "domainWidth": 3, "domainColor": "#111", "title": null}},
   "y": {"field": "e", "type": "quantitative", "scale": {"type": "log", "domain": [10, 100000], "nice": false}, "axis": {"orient": "left", "values": [100, 1000, 10000], "labelExpr": "datum.value > 5000 ? '10⁴' : datum.value > 500 ? '10³' : '10²'", "grid": true, "title": null}}}},
 {"data": {"name": "e2"}, "mark": {"type": "line", "color": "#ff1010", "strokeWidth": 1.5, "clip": true},
  "encoding": {"x": {"field": "h", "type": "quantitative", "scale": {"domain": [0, 360], "nice": false, "zero": false}, "axis": {"values": [0,24,48,72,96,120,144,168,192,216,240,264,288,312,336], "grid": true, "labels": false, "ticks": false, "domain": true, "domainWidth": 3, "domainColor": "#111", "title": null}},
   "y": {"field": "e", "type": "quantitative", "scale": {"type": "log", "domain": [10, 100000], "nice": false}, "axis": null}}},
 {"mark": {"type": "rule", "color": "#dd3333", "strokeWidth": 1.5, "strokeDash": [10, 8]},
  "encoding": {"y": {"datum": 10000, "type": "quantitative", "scale": {"type": "log", "domain": [10, 100000], "nice": false}, "axis": {"orient": "right", "values": [100, 1000, 10000], "labelExpr": "datum.value > 5000 ? 'rt' : ''", "labelFont": "DejaVu Sans", "labelFontSize": 6, "labelColor": "#555", "labelPadding": 2, "grid": false, "tickSize": 3, "title": null}}}}
]},
{"width": 585, "height": 45, "resolve": {"axis": {"y": "independent"}}, "layer": [
 {"data": {"name": "lo"}, "mark": {"type": "line", "color": "#2233ee", "strokeWidth": 1, "clip": true},
  "encoding": {"x": {"field": "h", "type": "quantitative", "scale": {"domain": [0, 360], "nice": false, "zero": false}, "axis": {"values": [0,24,48,72,96,120,144,168,192,216,240,264,288,312,336], "grid": true, "labels": true, "labelExpr": "'6/' + (16 + round(datum.value / 24))", "labelOffset": 19.5, "labelPadding": 4, "labelFontSize": 10, "labelFlush": false, "labelBound": false, "ticks": false, "domain": true, "domainWidth": 3, "domainColor": "#111", "title": "2026", "titleX": -3, "titleY": 4, "titleAlign": "right", "titleBaseline": "top", "titleAngle": 0, "titleFont": "DejaVu Sans Mono", "titleFontSize": 10, "titleFontWeight": "normal", "titleColor": "#222"}},
   "y": {"field": "v", "type": "quantitative", "scale": {"type": "log", "domain": [0.1, 100000], "nice": false}, "axis": {"orient": "left", "values": [1, 100, 10000], "labelExpr": "datum.value > 5000 ? '10⁴' : datum.value > 50 ? '10²' : '10⁰'", "grid": true, "title": null}}}},
 {"mark": {"type": "rule", "opacity": 0},
  "encoding": {"y": {"datum": 1, "type": "quantitative", "scale": {"type": "log", "domain": [0.1, 100000], "nice": false}, "axis": {"orient": "right", "values": [1, 100, 10000], "labels": false, "grid": false, "tickSize": 3, "title": null}}}}
]}
]
}
